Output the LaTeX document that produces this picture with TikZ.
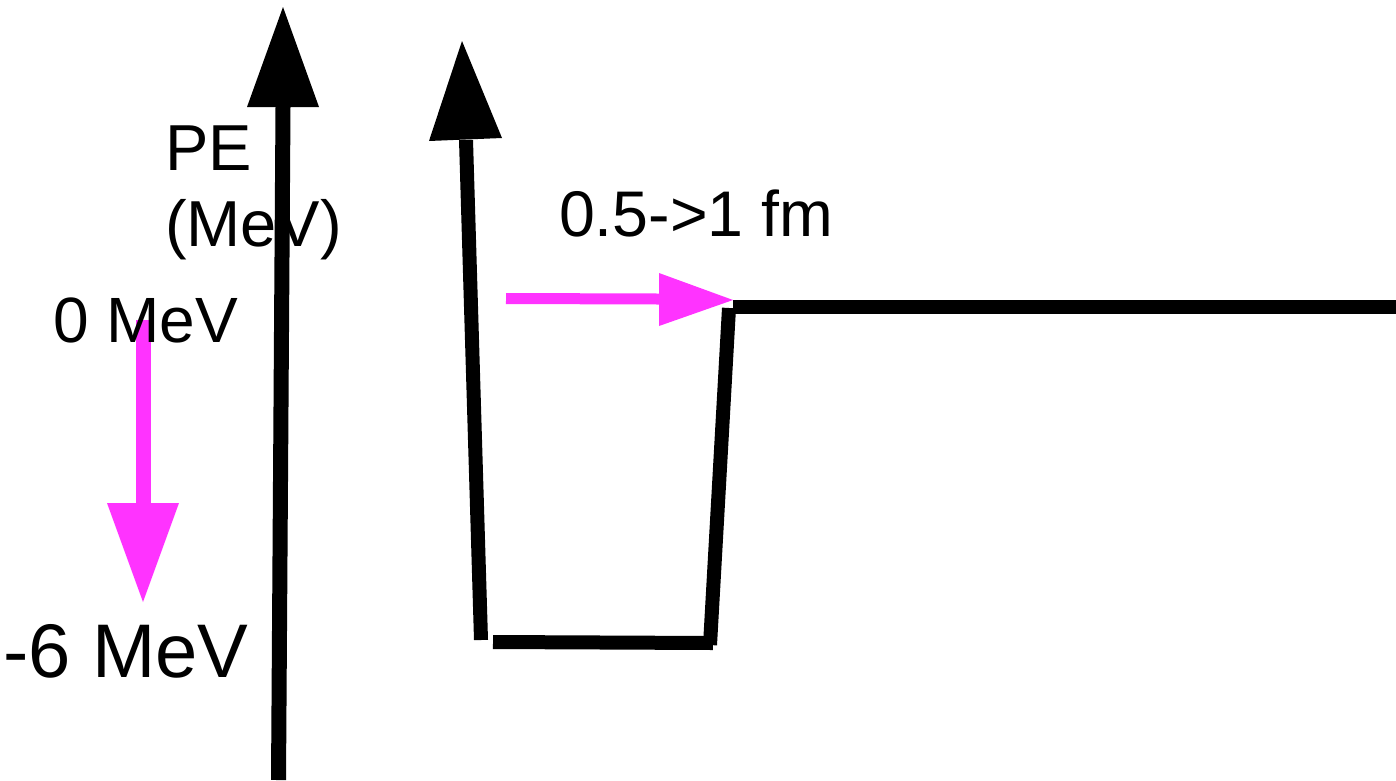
\documentclass[tikz,border=0pt]{standalone}
\usepackage{fontspec}
\setmainfont{Liberation Sans}
\definecolor{mag}{RGB}{255,51,255}
\begin{document}
\begin{tikzpicture}[x=1pt,y=-1pt,
  blk/.style={line width=14pt,line cap=butt,black},
  pnk/.style={line cap=butt,mag},
  lbl/.style={inner sep=0pt,outer sep=0pt,text=black}]
\useasboundingbox (0,0) rectangle (1396,780);
% coordinates
\coordinate (a1b) at (278.5,780);
\coordinate (a1t) at (283,107);
\coordinate (a2b) at (481,640);
\coordinate (a2t) at (466,140);
\coordinate (w1) at (493,642);
\coordinate (w2) at (713,643);
\coordinate (w3) at (710,645);
\coordinate (w4) at (729,308);
\coordinate (h1) at (733,307);
\coordinate (h2) at (1396,307);
\coordinate (m1s) at (143.5,320);
\coordinate (m1e) at (143.5,503);
\coordinate (m2s) at (506,298.5);
\coordinate (m2e) at (659,299);
% big axis
\draw[blk,line width=15pt] (a1b) -- (a1t);
\fill[black] (247,107) -- (319,107) -- (283,7) -- cycle;
% second axis
\draw[blk] (a2b) -- (a2t);
\fill[black] (429,141) -- (502,138) -- (462,41) -- cycle;
% well
\draw[blk] (w1) -- (w2);
\draw[blk] (w3) -- (w4);
\draw[blk] (h1) -- (h2);
% magenta arrows
\draw[pnk,line width=15pt] (m1s) -- (m1e);
\fill[mag] (107,503) -- (179,503) -- (143,602) -- cycle;
\draw[pnk,line width=11pt] (m2s) -- (m2e);
\fill[mag] (659,273) -- (659,326) -- (733,300) -- cycle;
% labels
\node[lbl,anchor=north west,align=left,font={\fontsize{65}{76}\selectfont}] (pe) at (165,126) {PE\\(MeV)};
\node[lbl,anchor=base west,font={\fontsize{64}{76}\selectfont}] (zero) at (53,342) {0 MeV};
\node[lbl,anchor=base west,font={\fontsize{76}{90}\selectfont}] (six) at (3.5,677) {-6 MeV};
\node[lbl,anchor=base west,font={\fontsize{64.5}{78}\selectfont}] (fm) at (559,236) {0.5->1 fm};
\end{tikzpicture}
\end{document}
